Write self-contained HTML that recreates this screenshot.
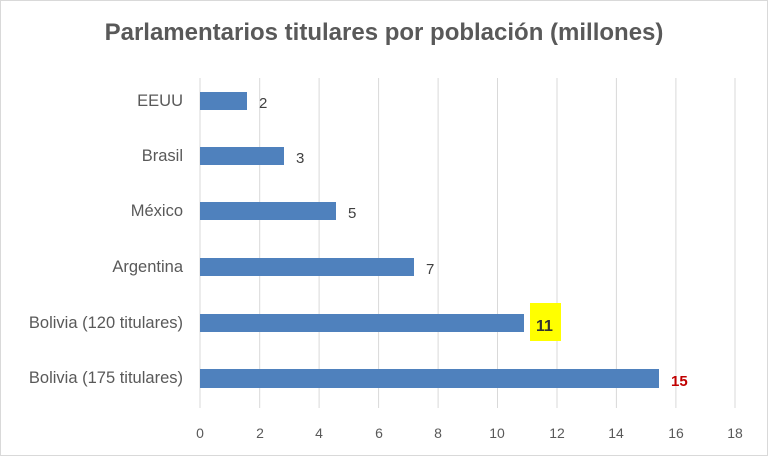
<!DOCTYPE html>
<html><head><style>
body{margin:0;background:#fff;}
svg text{font-family:"Liberation Sans",sans-serif;}
</style></head><body>
<svg width="768" height="458" xmlns="http://www.w3.org/2000/svg">
<rect x="0.5" y="0.5" width="767" height="455" fill="#fff" stroke="#d9d9d9"/>
<text x="384" y="40" text-anchor="middle" font-size="24" font-weight="bold" fill="#595959">Parlamentarios titulares por población (millones)</text>
<g stroke="#d9d9d9" stroke-width="1">
<line x1="200" y1="78" x2="200" y2="408"/><line x1="259.7" y1="78" x2="259.7" y2="408"/>
<line x1="319.1" y1="78" x2="319.1" y2="408"/><line x1="378.6" y1="78" x2="378.6" y2="408"/>
<line x1="438.1" y1="78" x2="438.1" y2="408"/><line x1="497.5" y1="78" x2="497.5" y2="408"/>
<line x1="557" y1="78" x2="557" y2="408"/><line x1="616.4" y1="78" x2="616.4" y2="408"/>
<line x1="675.9" y1="78" x2="675.9" y2="408"/><line x1="735" y1="78" x2="735" y2="408"/>
</g>
<g fill="#4f81bd">
<rect x="200" y="92" width="47" height="18"/>
<rect x="200" y="147" width="84" height="18"/>
<rect x="200" y="202" width="136" height="18"/>
<rect x="200" y="258" width="214" height="18"/>
<rect x="200" y="314" width="324" height="18"/>
<rect x="200" y="369" width="459" height="19"/>
</g>
<rect x="530" y="303" width="31" height="38" fill="#ffff00"/>
<g font-size="16.5" fill="#595959" text-anchor="end">
<text x="183" y="106">EEUU</text>
<text x="183" y="161">Brasil</text>
<text x="183" y="216">México</text>
<text x="183" y="272">Argentina</text>
<text x="183" y="328">Bolivia (120 titulares)</text>
<text x="183" y="383">Bolivia (175 titulares)</text>
</g>
<g font-size="15" fill="#404040">
<text x="259" y="108">2</text>
<text x="296" y="163">3</text>
<text x="348" y="218">5</text>
<text x="426" y="274">7</text>
<text x="536" y="331" font-weight="bold" font-size="16" fill="#333">11</text>
<text x="671" y="386" font-weight="bold" fill="#c00000">15</text>
</g>
<g font-size="14" fill="#595959" text-anchor="middle">
<text x="200" y="438">0</text><text x="260" y="438">2</text><text x="319" y="438">4</text>
<text x="379" y="438">6</text><text x="438" y="438">8</text><text x="497" y="438">10</text>
<text x="557" y="438">12</text><text x="616" y="438">14</text><text x="676" y="438">16</text>
<text x="735" y="438">18</text>
</g>
</svg>
</body></html>
